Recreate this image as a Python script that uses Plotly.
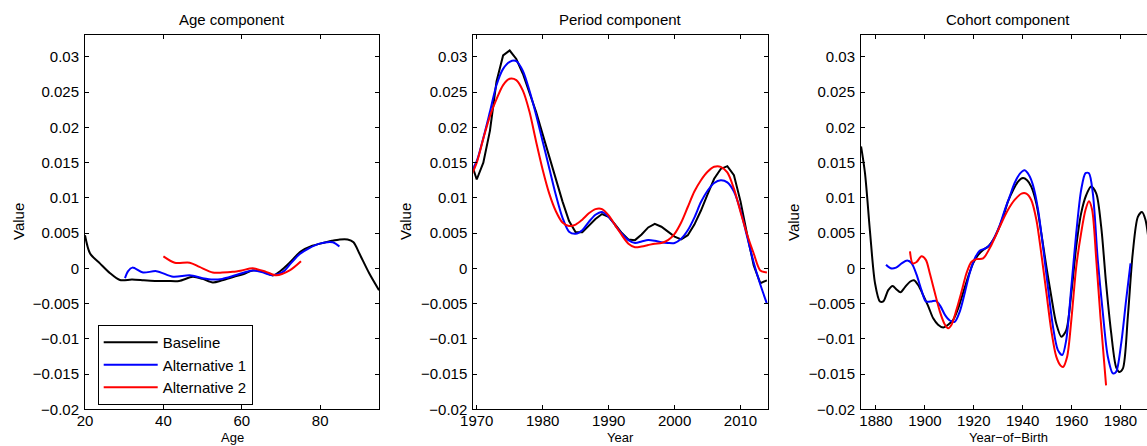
import plotly.graph_objects as go

# ---------------- data ----------------
# Age component
age_base_x = [20, 21.3, 23.8, 26.4, 28.9, 32, 35, 38.2, 41, 44, 47.5, 50, 52.6, 55, 58, 60.5, 62.8, 65.5, 68, 70, 72, 75.1, 78, 80, 83, 85, 87, 88.5, 90, 92.5, 95]
age_base_y = [0.0047, 0.0021, 0.0007, -0.0007, -0.00166, -0.0016, -0.0017, -0.0018, -0.0018, -0.0018, -0.0012, -0.0015, -0.0020, -0.0017, -0.0012, -0.0008, -0.0003, -0.0005, -0.0010, -0.0003, 0.0007, 0.0024, 0.0032, 0.0035, 0.0039, 0.0041, 0.0041, 0.0037, 0.0021, -0.0007, -0.0031]
age_alt1_x = [30.2, 31, 32.1, 34.8, 38.2, 42.5, 46.7, 50, 52.6, 55, 57.7, 60, 62.8, 65.5, 67.9, 70.5, 72.5, 74.7, 77, 79.8, 83.2, 84.9]
age_alt1_y = [-0.0014, -0.0004, 0.0001, -0.0006, -0.0004, -0.0012, -0.0010, -0.0014, -0.0016, -0.0015, -0.0011, -0.0007, -0.0003, -0.0006, -0.0010, -0.0005, 0.0007, 0.0020, 0.0028, 0.0035, 0.0037, 0.0031]
age_alt2_x = [40, 42.9, 46.7, 49.2, 52.6, 55, 57.7, 60, 62.8, 66.2, 68.8, 72.2, 75.1]
age_alt2_y = [0.0017, 0.0008, 0.0008, 0.0002, -0.0006, -0.0006, -0.0005, -0.0003, 0.0000, -0.0005, -0.0010, -0.0003, 0.0010]

# Period component
years = list(range(1969, 2015))
per_base = [0.0155, 0.0126, 0.0150, 0.0195, 0.0265, 0.0302, 0.0309, 0.0297, 0.0276, 0.0250,
            0.0222, 0.0190, 0.0158, 0.0125, 0.0095, 0.0067, 0.0051, 0.0051, 0.0060, 0.0070,
            0.0077, 0.0073, 0.0062, 0.0050, 0.0041, 0.0040, 0.0048, 0.0058, 0.0063, 0.0059,
            0.0052, 0.0045, 0.0041, 0.0047, 0.0062, 0.0082, 0.0105, 0.0127, 0.0141, 0.0145,
            0.0132, 0.0095, 0.0048, 0.0004, -0.0021, -0.0017]
per_alt1 = [0.0135, 0.0152, 0.0185, 0.0222, 0.0260, 0.0283, 0.0293, 0.0294, 0.0280, 0.0252,
            0.0218, 0.0180, 0.0142, 0.0104, 0.0072, 0.0052, 0.0049, 0.0054, 0.0066, 0.0076,
            0.0080, 0.0073, 0.0061, 0.0049, 0.0040, 0.0036, 0.0038, 0.0040, 0.0039, 0.0037,
            0.0036, 0.0036, 0.0042, 0.0054, 0.0072, 0.0094, 0.0110, 0.0121, 0.0125, 0.0122,
            0.0109, 0.0082, 0.0045, 0.0008, -0.0023, -0.0050]
per_alt2 = [0.0128, 0.0150, 0.0184, 0.0216, 0.0240, 0.0260, 0.0269, 0.0267, 0.0252, 0.0222,
            0.0180, 0.0140, 0.0106, 0.0081, 0.0065, 0.0060, 0.0062, 0.0069, 0.0078, 0.0084,
            0.0084, 0.0075, 0.0061, 0.0047, 0.0035, 0.0030, 0.0031, 0.0033, 0.0035, 0.0036,
            0.0040, 0.0049, 0.0065, 0.0087, 0.0109, 0.0125, 0.0137, 0.0144, 0.0144, 0.0136,
            0.0113, 0.0080, 0.0048, 0.0021, -0.0003, -0.0006]

# Cohort component
coh_base_x = [1873.9, 1875.5, 1877.6, 1879.6, 1881.6, 1883, 1885, 1886.8, 1888.4, 1890, 1891.8, 1893.9, 1895.5, 1897.3, 1899.3, 1901.4, 1903.4, 1905.4, 1907.5, 1909.5, 1911.6, 1913.6, 1915.6, 1917.7, 1919.7, 1921.8, 1923.8, 1925.9, 1927.9, 1929.9, 1932, 1934, 1936.1, 1938.1, 1940.1, 1941.8, 1943.5, 1945.6, 1947.6, 1949.7, 1951.7, 1953.7, 1955.8, 1957.8, 1959.9, 1961.9, 1963.9, 1966, 1968, 1970.1, 1972.1, 1974.1, 1976.2, 1978.2, 1979.6, 1981, 1983, 1985, 1987.1, 1988.8, 1990.2, 1991.5]
coh_base_y = [0.0173, 0.0135, 0.0050, -0.0021, -0.0047, -0.0047, -0.0031, -0.0025, -0.0030, -0.0034, -0.0027, -0.0019, -0.0017, -0.0024, -0.0038, -0.0054, -0.0071, -0.0080, -0.0084, -0.0080, -0.0073, -0.0057, -0.0035, -0.0012, 0.0007, 0.0019, 0.0026, 0.0031, 0.0040, 0.0054, 0.0073, 0.0095, 0.0111, 0.0123, 0.0128, 0.0125, 0.0116, 0.0092, 0.0050, 0.0002, -0.0040, -0.0078, -0.0097, -0.0088, -0.0035, 0.0031, 0.0078, 0.0104, 0.0116, 0.0106, 0.0059, -0.0021, -0.0092, -0.0140, -0.0147, -0.0142, -0.0069, 0.0021, 0.0073, 0.0080, 0.0069, 0.0040]
coh_alt1_x = [1884.1, 1886, 1888.2, 1890.5, 1892.8, 1894.6, 1896.6, 1898.6, 1900.4, 1902.7, 1904.5, 1906.4, 1908.2, 1910.2, 1912.2, 1914.3, 1916.3, 1918.3, 1920.4, 1922.4, 1924.5, 1926.5, 1928.6, 1930.6, 1932.7, 1934.7, 1936.7, 1938.8, 1940.8, 1942.6, 1944.2, 1946.3, 1948.3, 1950.3, 1952.4, 1954.4, 1956.2, 1957.8, 1959.9, 1961.9, 1963.9, 1965.7, 1967.1, 1968.7, 1970.7, 1972.8, 1974.8, 1976.9, 1978.2, 1980.3, 1982.3, 1984.1]
coh_alt1_y = [0.0005, 0.0000, 0.0001, 0.0007, 0.0011, 0.0007, -0.0009, -0.0031, -0.0047, -0.0047, -0.0046, -0.0054, -0.0066, -0.0074, -0.0076, -0.0061, -0.0035, -0.0007, 0.0014, 0.0025, 0.0028, 0.0033, 0.0045, 0.0061, 0.0083, 0.0102, 0.0121, 0.0134, 0.0139, 0.0132, 0.0118, 0.0083, 0.0031, -0.0026, -0.0083, -0.0116, -0.0123, -0.0102, -0.0026, 0.0050, 0.0111, 0.0135, 0.0135, 0.0106, 0.0012, -0.0064, -0.0125, -0.0149, -0.0147, -0.0106, -0.0045, 0.0007]
coh_alt2_x = [1893.9, 1895, 1896.6, 1898.6, 1900.4, 1902, 1904.1, 1906.1, 1908.2, 1909.5, 1910.9, 1912.9, 1915, 1917, 1919, 1921.1, 1923.8, 1927.2, 1930.6, 1934, 1936.7, 1939.5, 1941.5, 1943.5, 1945.6, 1947.6, 1949.7, 1951.7, 1953.7, 1955.5, 1956.5, 1958.2, 1959.9, 1961.9, 1963.9, 1965.7, 1967.1, 1968.4, 1970.1, 1971.8, 1974.1]
coh_alt2_y = [0.0024, 0.0007, 0.0009, 0.0017, 0.0012, -0.0007, -0.0035, -0.0061, -0.0080, -0.0085, -0.0080, -0.0059, -0.0033, -0.0007, 0.0009, 0.0013, 0.0014, 0.0033, 0.0059, 0.0083, 0.0097, 0.0106, 0.0106, 0.0097, 0.0069, 0.0021, -0.0035, -0.0088, -0.0125, -0.0138, -0.0140, -0.0125, -0.0073, 0.0002, 0.0050, 0.0083, 0.0095, 0.0083, 0.0012, -0.0069, -0.0166]

series_names = ["Baseline", "Alternative 1", "Alternative 2"]
series_colors = ["#000000", "#0000ff", "#ff0000"]

titles = ["Age component", "Period component", "Cohort component"]
xlabels = ["Age", "Year", "Year\u2212of\u2212Birth"]
ytick_vals = [-0.02, -0.015, -0.01, -0.005, 0, 0.005, 0.01, 0.015, 0.02, 0.025, 0.03]
ytick_text = ["\u22120.02", "\u22120.015", "\u22120.01", "\u22120.005", "0", "0.005", "0.01", "0.015", "0.02", "0.025", "0.03"]
xticks_age = [20, 40, 60, 80]
xticks_year = [1970, 1980, 1990, 2000, 2010]
xticks_coh = [1880, 1900, 1920, 1940, 1960, 1980]

# ---------------- layout helpers ----------------
W, H = 1147, 446
def fx(p):
    return p / W
def fy(p):
    return 1 - p / H

FONT = "Liberation Sans, Arial, Helvetica, sans-serif"
FS = 15

fig = go.Figure()

panels = [
    ("x", "y", [(age_base_x, age_base_y), (age_alt1_x, age_alt1_y), (age_alt2_x, age_alt2_y)]),
    ("x2", "y2", [(years, per_base), (years, per_alt1), (years, per_alt2)]),
    ("x3", "y3", [(coh_base_x, coh_base_y), (coh_alt1_x, coh_alt1_y), (coh_alt2_x, coh_alt2_y)]),
]
for pi, (xa, ya, data) in enumerate(panels):
    for si, (xs, ys) in enumerate(data):
        shape = "spline"
        if pi == 1 and si == 0:
            shape = "linear"
        fig.add_trace(go.Scatter(
            x=xs, y=ys, mode="lines", xaxis=xa, yaxis=ya,
            name=series_names[si], showlegend=(pi == 0),
            line=dict(color=series_colors[si], width=2, shape=shape, smoothing=0.8),
            hoverinfo="skip",
        ))

ydom = [fy(409.3), fy(35)]
xdoms = [[fx(85), fx(379)], [fx(473.3), fx(767.7)], [fx(861), 1.0]]
xranges = [[20, 95], [1969.48, 2014.12], [1873.87, 1990.84]]
xticks = [xticks_age, xticks_year, xticks_coh]
yrange = [-0.02, 0.0331]

axcommon = dict(showgrid=False, zeroline=False, showline=True, linecolor="black",
                linewidth=1, ticks="inside", ticklen=4, tickcolor="black",
                automargin=False,
                tickfont=dict(family=FONT, size=FS, color="black"))

layout = dict(
    template="none",
    width=W, height=H, autosize=False,
    margin=dict(l=0, r=0, t=0, b=0, pad=0),
    paper_bgcolor="white", plot_bgcolor="white",
    font=dict(family=FONT, size=FS, color="black"),
    showlegend=True,
    legend=dict(x=fx(97.7), y=fy(325), xanchor="left", yanchor="top",
                bordercolor="black", borderwidth=1, bgcolor="white",
                font=dict(family=FONT, size=FS, color="black"),
                tracegroupgap=0, itemwidth=54),
)
for i in range(3):
    sx = "" if i == 0 else str(i + 1)
    layout["xaxis" + sx] = dict(domain=xdoms[i], range=xranges[i], anchor="y" + sx,
                                tickvals=xticks[i], mirror="ticks",
                                ticklabelstandoff=-2, **axcommon)
    layout["yaxis" + sx] = dict(domain=ydom, range=yrange, anchor="x" + sx,
                                tickvals=ytick_vals, ticktext=ytick_text,
                                mirror=("ticks" if i < 2 else False),
                                ticklabelstandoff=2, **axcommon)
fig.update_layout(**layout)

title_cx = [232, 620.5, 1008]
ylab_cx = [18, 405, 793]
ann = []
for i in range(3):
    ann.append(dict(text=titles[i], x=fx(title_cx[i]), y=fy(19), xref="paper", yref="paper",
                    showarrow=False, xanchor="center", yanchor="middle",
                    font=dict(family=FONT, size=FS, color="black")))
    ann.append(dict(text=xlabels[i], x=fx(title_cx[i]), y=fy(446), xref="paper", yref="paper",
                    showarrow=False, xanchor="center", yanchor="bottom", borderpad=0,
                    font=dict(family=FONT, size=13, color="black")))
    ann.append(dict(text="Value", x=fx(ylab_cx[i]), y=fy(222), xref="paper", yref="paper",
                    showarrow=False, xanchor="center", yanchor="middle", textangle=-90,
                    font=dict(family=FONT, size=FS, color="black")))
fig.update_layout(annotations=ann)

fig.write_html("out.html")
